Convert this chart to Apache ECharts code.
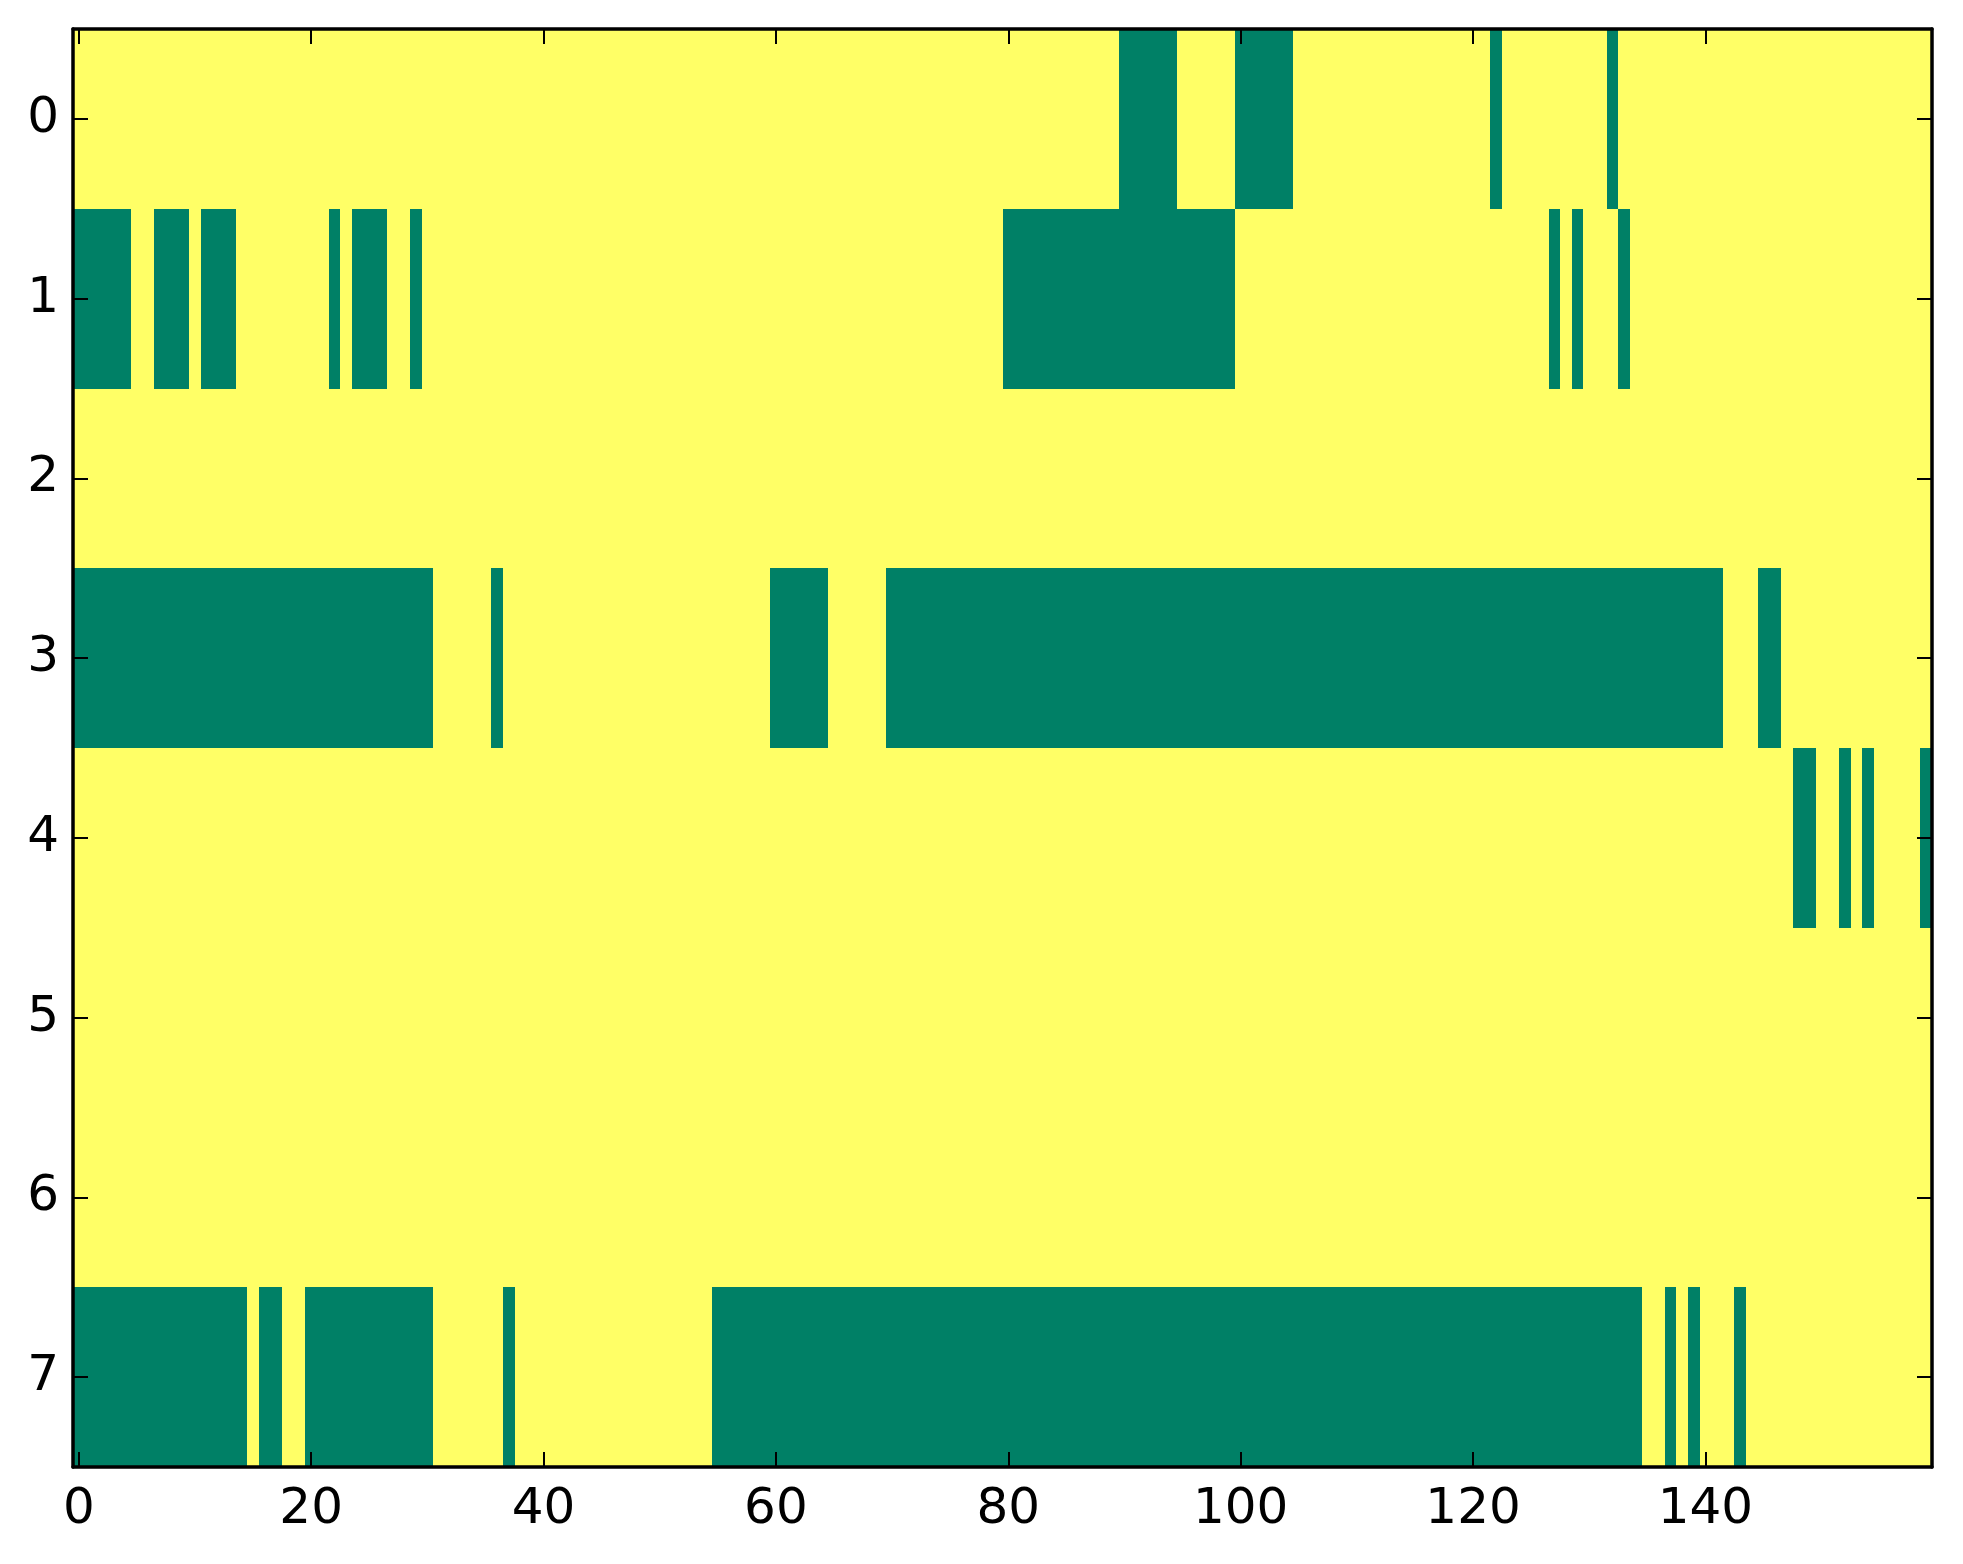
<!DOCTYPE html>
<html>
<head>
<meta charset="utf-8">
<script src="https://cdn.jsdelivr.net/npm/echarts@6/dist/echarts.min.js"></script>
<style>
  html, body { margin: 0; padding: 0; background: #ffffff; }
  #chart { width: 1963px; height: 1564px; }
</style>
</head>
<body>
<div id="chart"></div>
<script>
// data: 8 rows x 160 columns, value 1 everywhere except the green runs [start, end]
var nCols = 160;
var rowLabels = ['0', '1', '2', '3', '4', '5', '6', '7'];
var xTickLabels = ['0', '20', '40', '60', '80', '100', '120', '140'];

var row0Green = [[90, 94], [100, 104], [122, 122], [132, 132]];
var row1Green = [[0, 4], [7, 9], [11, 13], [22, 22], [24, 26], [29, 29], [80, 99], [127, 127], [129, 129], [133, 133]];
var row2Green = [];
var row3Green = [[0, 30], [36, 36], [60, 64], [70, 141], [145, 146]];
var row4Green = [[148, 149], [152, 152], [154, 154], [159, 159]];
var row5Green = [];
var row6Green = [];
var row7Green = [[0, 14], [16, 17], [20, 30], [37, 37], [55, 134], [137, 137], [139, 139], [143, 143]];

var greenRuns = [row0Green, row1Green, row2Green, row3Green, row4Green, row5Green, row6Green, row7Green];

window.addEventListener('load', function () {
  var chart = echarts.init(document.getElementById('chart'), null, { renderer: 'canvas' });

  var cols = [];
  var c;
  for (c = 0; c < nCols; c++) cols.push(String(c));

  var cells = [];
  greenRuns.forEach(function (runs, r) {
    var row = [];
    for (c = 0; c < nCols; c++) row.push(1);
    runs.forEach(function (run) {
      for (var k = run[0]; k <= run[1]; k++) row[k] = 0;
    });
    for (c = 0; c < nCols; c++) cells.push([c, r, row[c]]);
  });

  var showTick = function (index) {
    return xTickLabels.indexOf(String(index)) >= 0;
  };

  // one rect per cell, edges snapped to whole pixels so neighbours meet without seams
  var renderCell = function (params, api) {
    var p = api.coord([api.value(0), api.value(1)]);
    var s = api.size([1, 1]);
    var x0 = Math.round(p[0] - s[0] / 2);
    var x1 = Math.round(p[0] + s[0] / 2);
    var y0 = Math.round(p[1] - s[1] / 2);
    var y1 = Math.round(p[1] + s[1] / 2);
    return {
      type: 'rect',
      shape: { x: x0, y: y0, width: x1 - x0, height: y1 - y0 },
      style: { fill: api.visual('color') }
    };
  };

  var font = { fontFamily: 'DejaVu Sans', fontSize: 50, color: '#000000' };
  var spine = { show: true, lineStyle: { color: '#000000', width: 3.5 } };
  var tick = { show: true, inside: true, length: 15, alignWithLabel: true, lineStyle: { color: '#000000', width: 2 } };

  var option = {
    backgroundColor: '#ffffff',
    animation: false,
    grid: { left: 73, top: 29, width: 1859, height: 1438, containLabel: false },
    xAxis: [
      {
        type: 'category', position: 'bottom', data: cols, z: 10,
        axisLine: spine,
        axisTick: Object.assign({ interval: showTick }, tick),
        axisLabel: Object.assign({ interval: showTick, margin: 18 }, font),
        splitLine: { show: false }
      },
      {
        type: 'category', position: 'top', data: cols, z: 10,
        axisLine: spine,
        axisTick: Object.assign({ interval: showTick }, tick),
        axisLabel: { show: false },
        splitLine: { show: false }
      }
    ],
    yAxis: [
      {
        type: 'category', position: 'left', data: rowLabels, inverse: true, z: 10,
        axisLine: spine,
        axisTick: tick,
        axisLabel: Object.assign({ margin: 14 }, font),
        splitLine: { show: false }
      },
      {
        type: 'category', position: 'right', data: rowLabels, inverse: true, z: 10,
        axisLine: spine,
        axisTick: tick,
        axisLabel: { show: false },
        splitLine: { show: false }
      }
    ],
    visualMap: {
      show: false,
      type: 'piecewise',
      dimension: 2,
      seriesIndex: 0,
      pieces: [
        { value: 0, color: '#008066' },
        { value: 1, color: '#ffff66' }
      ]
    },
    series: [
      {
        type: 'custom',
        xAxisIndex: 0,
        yAxisIndex: 0,
        encode: { x: 0, y: 1 },
        data: cells,
        renderItem: renderCell,
        emphasis: { disabled: true },
        silent: true
      }
    ]
  };

  chart.setOption(option);
});
</script>
</body>
</html>
